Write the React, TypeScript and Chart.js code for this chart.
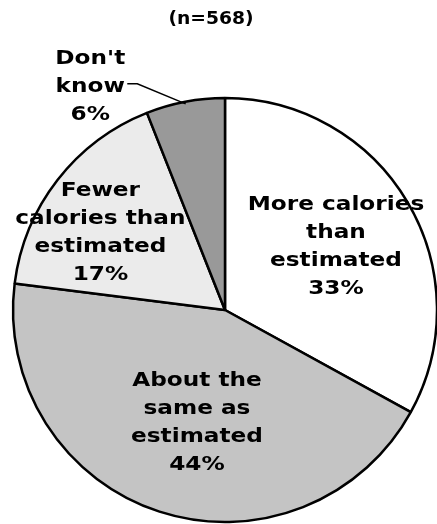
import React, { useEffect, useRef } from "react";
import { Chart, registerables } from "chart.js";

Chart.register(...registerables);

const TITLE = "(n=568)";
const categories = [
  "More calories than estimated",
  "About the same as estimated",
  "Fewer calories than estimated",
  "Don't know",
];
const values = [33, 44, 17, 6];
const labelLines = [
  ["More calories", "than", "estimated"],
  ["About the", "same as", "estimated"],
  ["Fewer", "calories than", "estimated"],
  ["Don't", "know"],
];
const colors = ["#ffffff", "#c4c4c4", "#ebebeb", "#999999"];

// label placement: fraction of radius along slice mid-angle, plus pixel nudge
const LABEL_LAYOUT = [
  { f: 0.6, dx: 1.5, dy: 2, outside: false },
  { f: 0.55, dx: 8, dy: 1.5, outside: false },
  { f: 0.69, dx: -9, dy: 12, outside: false },
  { f: 1.0, dx: -95, dy: -15, outside: true },
];

const FONT_FAMILY = '"DejaVu Sans", Verdana, sans-serif';
const LABEL_SIZE = 20;
const LABEL_SCALE_X = 1.16;
const LINE_H = 28;

function drawText(ctx: CanvasRenderingContext2D, t: string, x: number, y: number, sx: number) {
  ctx.save();
  ctx.translate(x, y);
  ctx.scale(sx, 1);
  ctx.fillText(t, 0, 0);
  ctx.restore();
}

const labelPlugin = {
  id: "pieLabels",
  afterDraw(chart: any) {
    const ctx = chart.ctx as CanvasRenderingContext2D;
    ctx.save();
    ctx.fillStyle = "#000";
    ctx.textAlign = "center";
    ctx.textBaseline = "middle";
    // title
    ctx.font = `bold 18px ${FONT_FAMILY}`;
    drawText(ctx, TITLE, 211, 19, 1.04);

    ctx.font = `bold ${LABEL_SIZE}px ${FONT_FAMILY}`;
    const meta = chart.getDatasetMeta(0);
    meta.data.forEach((arc: any, i: number) => {
      const p = arc.getProps(["x", "y", "startAngle", "endAngle", "outerRadius"], true);
      const mid = (p.startAngle + p.endAngle) / 2;
      const lay = LABEL_LAYOUT[i];
      const ex = p.x + Math.cos(mid) * p.outerRadius * lay.f;
      const ey = p.y + Math.sin(mid) * p.outerRadius * lay.f;
      const cx = ex + lay.dx;
      const cy = ey + lay.dy;
      const lines = [...labelLines[i], `${values[i]}%`];
      const top = cy - ((lines.length - 1) * LINE_H) / 2;
      lines.forEach((t, k) => drawText(ctx, t, cx, top + k * LINE_H, LABEL_SCALE_X));
      if (lay.outside) {
        ctx.beginPath();
        ctx.strokeStyle = "#000";
        ctx.lineWidth = 1.5;
        const sx = p.x + Math.cos(mid) * p.outerRadius * 0.99;
        const sy = p.y + Math.sin(mid) * p.outerRadius * 0.99;
        ctx.moveTo(sx, sy);
        ctx.lineTo(ex - 48, ey - 18);
        ctx.lineTo(ex - 58, ey - 18);
        ctx.stroke();
      }
    });
    ctx.restore();
  },
};

export default function App() {
  const ref = useRef<HTMLCanvasElement | null>(null);
  useEffect(() => {
    if (!ref.current) return;
    const chart = new Chart(ref.current, {
      type: "pie",
      data: {
        labels: categories,
        datasets: [
          {
            data: values,
            backgroundColor: colors,
            borderColor: "#000000",
            borderWidth: 2.5,
            radius: 212,
          } as any,
        ],
      },
      options: {
        animation: false,
        responsive: false,
        maintainAspectRatio: false,
        layout: { padding: { left: 13, right: 0, top: 98, bottom: 2 } },
        plugins: {
          legend: { display: false },
          tooltip: { enabled: false },
          title: { display: false },
        },
      },
      plugins: [labelPlugin],
    });
    return () => chart.destroy();
  }, []);
  return (
    <div style={{ position: "fixed", left: 0, top: 0, width: 437, height: 524, background: "#fff" }}>
      <canvas ref={ref} width={437} height={524} style={{ width: 437, height: 524 }} />
    </div>
  );
}
